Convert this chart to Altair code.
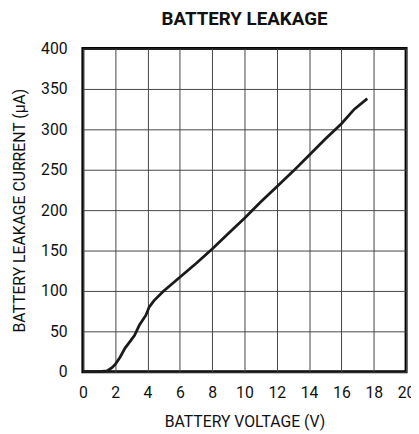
import altair as alt
import pandas as pd

voltage = [0, 1.0, 1.5, 1.8, 2.0, 2.3, 2.6, 2.9, 3.2, 3.5, 3.9, 4.1, 4.4, 5.0, 6.0, 7.0, 8.0, 9.0, 10.0, 11.0, 12.0, 13.0, 14.0, 15.0, 16.0, 16.8, 17.6]
current = [0, 0, 1, 5, 9, 18, 29, 37, 45, 58, 70, 80, 88, 100, 117, 134, 152, 171, 190, 210, 229, 248, 268, 288, 307, 325, 338]

x_ticks = list(range(0, 21, 2))
y_ticks = list(range(0, 401, 50))

df = pd.DataFrame({"v": voltage, "i": current})

FONT = "Roboto, Liberation Sans, sans-serif"

chart = (
    alt.Chart(df)
    .mark_line(color="#1a1a1a", strokeWidth=2.8)
    .encode(
        x=alt.X(
            "v:Q",
            scale=alt.Scale(domain=[0, 20], nice=False, zero=False),
            axis=alt.Axis(
                values=x_ticks,
                title="BATTERY VOLTAGE (V)",
                grid=True,
                gridColor="#444444",
                gridWidth=1,
                gridOpacity=1,
                domain=False,
                ticks=False,
                labelPadding=13,
                labelFont=FONT,
                labelFontSize=16,
                labelColor="#111111",
                titleFont=FONT,
                titleFontSize=16,
                titleFontWeight="normal",
                titleColor="#111111",
                titleX=164,
                titleY=51,
                titleBaseline="middle",
                titleAlign="center",
                labelFlush=False,
            ),
        ),
        y=alt.Y(
            "i:Q",
            scale=alt.Scale(domain=[0, 400], nice=False),
            axis=alt.Axis(
                values=y_ticks,
                title="BATTERY LEAKAGE CURRENT (μA)",
                grid=True,
                gridColor="#444444",
                gridWidth=1,
                gridOpacity=1,
                domain=False,
                ticks=False,
                labelPadding=16,
                labelFont=FONT,
                labelFontSize=16,
                labelColor="#111111",
                titleFont=FONT,
                titleFontSize=16,
                titleFontWeight="normal",
                titleColor="#111111",
                titleX=-64,
                titleY=164,
                titleAngle=-90,
                titleBaseline="middle",
                titleAlign="center",
            ),
        ),
    )
    .properties(
        width=328,
        height=328,
        autosize=alt.AutoSizeParams(type="none"),
        padding={"left": 76, "top": 38, "right": 5, "bottom": 58},
        title=alt.TitleParams(
            "BATTERY LEAKAGE",
            font=FONT,
            fontSize=19,
            fontWeight="bold",
            color="#111111",
            anchor="middle",
            offset=12,
        ),
    )
    .configure_view(stroke="#000000", strokeWidth=3)
)

chart.save("out.html", embed_options={"renderer": "svg", "actions": False})
